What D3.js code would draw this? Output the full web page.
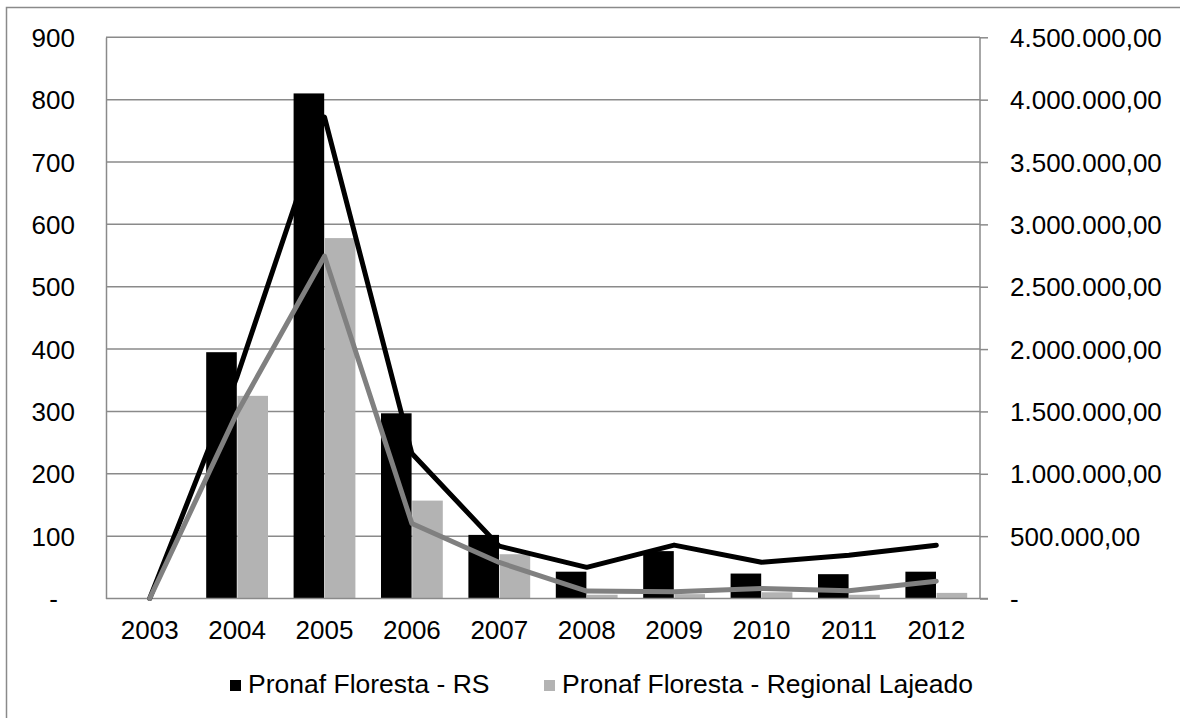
<!DOCTYPE html>
<html>
<head>
<meta charset="utf-8">
<script src="https://cdn.jsdelivr.net/npm/d3@7/dist/d3.min.js"></script>
<style>
  html, body { margin: 0; padding: 0; background: #fff; }
  svg { display: block; font-family: "Liberation Sans", Arial, sans-serif; }
</style>
</head>
<body>
<svg id="chart" width="1180" height="718"></svg>
<script>
// Pronaf Floresta: number of contracts (bars, left axis) and amounts in R$ (lines, right axis)
const years = ["2003", "2004", "2005", "2006", "2007", "2008", "2009", "2010", "2011", "2012"];
const seriesNames = ["Pronaf Floresta - RS", "Pronaf Floresta - Regional Lajeado"];
const contractsRS = [0, 395, 810, 297, 102, 43, 76, 40, 39, 43];
const contractsLajeado = [0, 325, 578, 157, 71, 6, 7, 10, 6, 9];
const amountRS = [0, 1780000, 3860000, 1162000, 420000, 250000, 428000, 291000, 347000, 427000];
const amountLajeado = [0, 1490000, 2745000, 601000, 289000, 60000, 55000, 80000, 62000, 139000];
const leftTicks = [0, 100, 200, 300, 400, 500, 600, 700, 800, 900];
const rightTicks = [0, 500000, 1000000, 1500000, 2000000, 2500000, 3000000, 3500000, 4000000, 4500000];

const barColors = ["#000000", "#b3b3b3"];
const lineColors = ["#000000", "#808080"];
const gridColor = "#8a8a8a";
const axisFont = 26;

const svg = d3.select("#chart");
const plot = { left: 106, right: 980, top: 37.3, bottom: 598.5 };

// frame around the chart area
svg.append("rect")
  .attr("x", 6.5).attr("y", 7.5)
  .attr("width", 1200).attr("height", 740)
  .attr("fill", "none").attr("stroke", gridColor).attr("stroke-width", 1.5);

const x = d3.scaleBand().domain(years).range([plot.left, plot.right]).padding(0);
const xs = d3.scaleBand().domain(seriesNames).range([0, x.bandwidth()]).paddingInner(0.02).paddingOuter(0.41);
const yLeft = d3.scaleLinear().domain([0, 900]).range([plot.bottom, plot.top]);
const yRight = d3.scaleLinear().domain([0, 4500000]).range([plot.bottom, plot.top]);

const br = d3.formatLocale({ decimal: ",", thousands: ".", grouping: [3], currency: ["R$", ""] });
const fmtRight = br.format(",.2f");

// horizontal gridlines
svg.append("g").selectAll("line").data(leftTicks.filter(t => t > 0)).join("line")
  .attr("x1", plot.left).attr("x2", plot.right)
  .attr("y1", d => yLeft(d)).attr("y2", d => yLeft(d))
  .attr("stroke", gridColor).attr("stroke-width", 1.5);

// left axis
const leftAxis = d3.axisLeft(yLeft).tickValues(leftTicks).tickSize(0).tickPadding(0)
  .tickFormat(d => d === 0 ? "-" : String(d));
const gL = svg.append("g").attr("transform", `translate(${plot.left},0)`).call(leftAxis);
gL.select(".domain").attr("stroke", gridColor).attr("stroke-width", 1.5);
gL.selectAll("text")
  .attr("x", d => d === 0 ? -48 : -31)
  .attr("dy", "0.35em")
  .attr("font-size", axisFont).attr("font-family", "Liberation Sans, Arial, sans-serif")
  .attr("fill", "#000");

// right axis
const rightAxis = d3.axisRight(yRight).tickValues(rightTicks).tickSize(8).tickPadding(22)
  .tickFormat(d => d === 0 ? "-" : fmtRight(d));
const gR = svg.append("g").attr("transform", `translate(${plot.right},0)`).call(rightAxis);
gR.select(".domain").attr("stroke", gridColor).attr("stroke-width", 1.5).attr("d", `M0,${plot.top}V${plot.bottom}`);
gR.selectAll(".tick line").attr("stroke", gridColor).attr("stroke-width", 1.5);
gR.selectAll("text")
  .attr("x", 30).attr("dy", "0.35em")
  .attr("font-size", axisFont).attr("font-family", "Liberation Sans, Arial, sans-serif")
  .attr("fill", "#000");

// bars
const barData = years.map((yr, i) => ({ yr, vals: [contractsRS[i], contractsLajeado[i]] }));
const groups = svg.append("g").selectAll("g").data(barData).join("g")
  .attr("transform", d => `translate(${x(d.yr)},0)`);
groups.selectAll("rect").data(d => d.vals.map((v, j) => ({ v, s: seriesNames[j], j }))).join("rect")
  .attr("x", d => xs(d.s))
  .attr("width", xs.bandwidth())
  .attr("y", d => yLeft(d.v))
  .attr("height", d => yLeft(0) - yLeft(d.v))
  .attr("fill", d => barColors[d.j]);

// bottom axis line
svg.append("line")
  .attr("x1", plot.left).attr("x2", plot.right + 8)
  .attr("y1", plot.bottom).attr("y2", plot.bottom)
  .attr("stroke", gridColor).attr("stroke-width", 1.5);

// year labels
const bottomAxis = d3.axisBottom(x).tickSize(0).tickPadding(0);
const gB = svg.append("g").attr("transform", `translate(0,${plot.bottom})`).call(bottomAxis);
gB.select(".domain").remove();
gB.selectAll("text")
  .attr("y", 40).attr("dy", 0)
  .attr("font-size", axisFont).attr("font-family", "Liberation Sans, Arial, sans-serif")
  .attr("fill", "#000");

// amount lines
const line = d3.line().x((d, i) => x(years[i]) + x.bandwidth() / 2).y(d => yRight(d));
[amountRS, amountLajeado].forEach((vals, k) => {
  svg.append("path")
    .attr("d", line(vals))
    .attr("fill", "none")
    .attr("stroke", lineColors[k])
    .attr("stroke-width", 5)
    .attr("stroke-linejoin", "round")
    .attr("stroke-linecap", "round");
});

// legend
const legendItems = [
  { name: seriesNames[0], color: barColors[0], x: 230 },
  { name: seriesNames[1], color: barColors[1], x: 544 }
];
const lg = svg.append("g").selectAll("g").data(legendItems).join("g")
  .attr("transform", d => `translate(${d.x},0)`);
lg.append("rect").attr("x", 0).attr("y", 680).attr("width", 11).attr("height", 11)
  .attr("fill", d => d.color);
lg.append("text").attr("x", 18).attr("y", 693)
  .attr("font-size", 26.5).attr("fill", "#000")
  .text(d => d.name);
</script>
</body>
</html>
